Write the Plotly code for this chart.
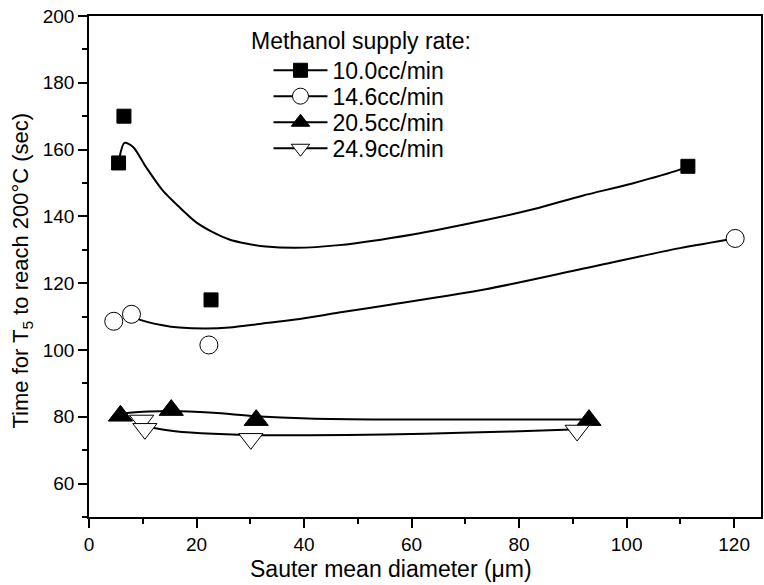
import plotly.graph_objects as go

# Methanol supply rates (legend labels)
rates = ["10.0cc/min", "14.6cc/min", "20.5cc/min", "24.9cc/min"]
legend_heading = "Methanol supply rate:"

# Measured points: Sauter mean diameter (um) vs. time for T5 to reach 200 C (s)
d_100 = [5.5, 6.5, 22.7, 111.4]
t_100 = [156.0, 170.0, 115.0, 155.0]

d_146 = [4.6, 7.9, 22.3, 120.2]
t_146 = [108.6, 110.7, 101.5, 133.4]

d_205 = [5.85, 15.3, 31.1, 93.0]
t_205 = [80.3, 82.0, 79.0, 79.0]

d_249 = [9.8, 10.4, 30.1, 90.8]
t_249 = [78.9, 76.4, 73.4, 75.9]

# Smoothed trend curves, sampled along each fitted line
fit_d_100 = [5.7, 6.6, 8.2, 10.6, 13.7, 16.8, 19.9, 23.0, 26.1, 29.2, 32.9, 38.4,
             46.5, 60.2, 73.8, 82.8, 91.8, 100.9, 109.9, 111.4]
fit_t_100 = [157.8, 162.0, 160.8, 154.8, 147.8, 142.8, 138.3, 135.3, 133.1, 131.9,
             131.0, 130.6, 131.4, 134.6, 138.9, 142.2, 146.2, 149.8, 154.0, 155.0]

fit_d_146 = [7.9, 9.4, 13.7, 16.8, 21.8, 26.1, 32.3, 38.4, 46.5, 55.7, 73.8, 91.8,
             109.9, 120.2]
fit_t_146 = [110.3, 109.1, 107.4, 106.7, 106.4, 106.7, 107.9, 109.1, 111.2, 113.5,
             118.2, 124.3, 130.5, 133.4]

fit_d_205 = [5.85, 7.5, 15.3, 23.1, 30.9, 40.8, 55.0, 69.2, 93.0]
fit_t_205 = [80.8, 81.2, 81.7, 81.2, 80.2, 79.5, 79.2, 79.2, 79.2]

fit_d_249 = [10.4, 11.8, 16.0, 23.1, 30.2, 40.8, 55.0, 69.2, 89.8, 90.8]
fit_t_249 = [77.2, 76.7, 75.7, 74.9, 74.5, 74.5, 74.7, 75.2, 76.2, 76.3]

points = [(d_100, t_100), (d_146, t_146), (d_205, t_205), (d_249, t_249)]
curves = [(fit_d_100, fit_t_100), (fit_d_146, fit_t_146),
          (fit_d_205, fit_t_205), (fit_d_249, fit_t_249)]

markers = [
    dict(symbol="square", size=14, color="black", line=dict(color="black", width=1)),
    dict(symbol="circle", size=18, color="white", line=dict(color="black", width=1)),
    dict(symbol="triangle-up", size=21, color="black", line=dict(color="black", width=1)),
    dict(symbol="triangle-down", size=21, color="white", line=dict(color="black", width=1)),
]

fig = go.Figure()

# trend curves underneath the markers
for (cx, cy) in curves:
    fig.add_trace(go.Scatter(x=cx, y=cy, mode="lines", showlegend=False,
                             hoverinfo="skip",
                             line=dict(color="black", width=2, shape="spline",
                                       smoothing=0.8)))

# measured points
for (px, py), mk, name in zip(points, markers, rates):
    fig.add_trace(go.Scatter(x=px, y=py, mode="markers", marker=mk,
                             name=name, showlegend=False))

# one legend per entry so the rows can be spaced tightly
legend_ids = ["legend", "legend2", "legend3", "legend4"]
row_y = [0.8916, 0.8399, 0.7878, 0.7359]
for mk, name, lid in zip(markers, rates, legend_ids):
    fig.add_trace(go.Scatter(x=[None], y=[None], mode="lines+markers", marker=mk,
                             line=dict(color="black", width=2), name=name,
                             legend=lid))

legend_style = dict(x=0.2671, xanchor="left", yanchor="middle",
                    bgcolor="rgba(0,0,0,0)", borderwidth=0,
                    font=dict(size=23, color="black"), itemwidth=54,
                    tracegroupgap=0)
legends = {lid: dict(y=yy, **legend_style) for lid, yy in zip(legend_ids, row_y)}

axis_common = dict(
    showgrid=False, zeroline=False, showline=True, linecolor="black",
    linewidth=1.5, mirror=True, ticks="outside", ticklen=9, tickwidth=1.5,
    tickcolor="black", tickfont=dict(size=19, color="black"),
)

fig.update_layout(
    width=764, height=585,
    margin=dict(l=89, r=1, t=16, b=68),
    paper_bgcolor="white", plot_bgcolor="white",
    font=dict(family="Liberation Sans, Arial, sans-serif", color="black", size=19),
    xaxis=dict(range=[0, 125], tick0=0, dtick=20,
               minor=dict(dtick=10, ticks="outside", ticklen=5, tickwidth=1.5,
                          tickcolor="black", showgrid=False),
               **axis_common),
    yaxis=dict(range=[50, 200], tick0=0, dtick=20,
               minor=dict(dtick=10, ticks="outside", ticklen=5, tickwidth=1.5,
                          tickcolor="black", showgrid=False),
               **axis_common),
    annotations=[
        dict(text=legend_heading, xref="paper", yref="paper",
             x=0.2374, y=0.9495, xanchor="left", yanchor="middle",
             showarrow=False, font=dict(size=23, color="black")),
        dict(text="Sauter mean diameter (\u03bcm)", xref="paper", yref="paper",
             x=0.4496, y=-0.1044, xanchor="center", yanchor="middle",
             showarrow=False, font=dict(size=23, color="black")),
        dict(text="Time for T<sub>5</sub> to reach 200\u00b0C (sec)",
             xref="paper", yref="paper", x=-0.0994, y=0.4924,
             xanchor="center", yanchor="middle", textangle=-90,
             showarrow=False, font=dict(size=22, color="black")),
    ],
    **legends,
)

fig.write_html("out.html")
